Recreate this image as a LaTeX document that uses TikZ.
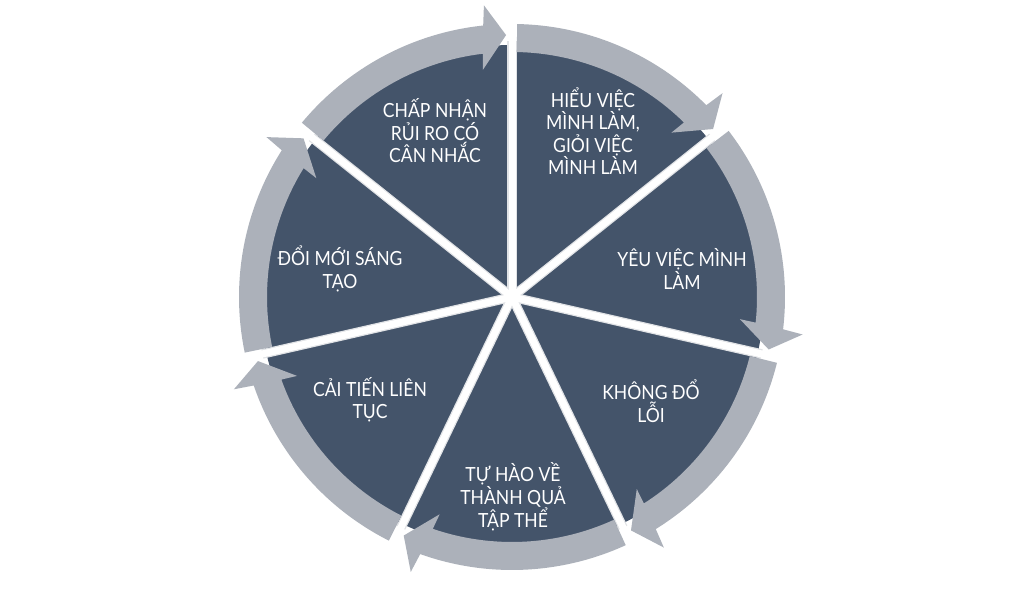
\documentclass[tikz,border=0pt]{standalone}
\usepackage{fontspec}
\setmainfont{Lato}[FakeStretch=0.9]
\definecolor{piecol}{RGB}{68,84,106}
\definecolor{bandcol}{RGB}{172,177,186}
\definecolor{edgecol}{RGB}{225,227,230}
\tikzset{
  sector/.style={fill=piecol},
  gapedge/.style={draw=edgecol, line width=9.5pt},
  gapline/.style={draw=white, line width=7pt},
  arrowband/.style={fill=bandcol},
  lbl/.style={text=white, align=center, inner sep=0pt, font=\fontsize{19.5}{22.5}\selectfont}
}
\begin{document}
\begin{tikzpicture}[x=1pt,y=1pt]
\useasboundingbox (0,0) rectangle (1024,601);
\fill[white] (0,0) rectangle (1024,601);
\coordinate (C) at (512,304);
\begin{scope}[shift={(C)}]
  % pie sectors
  \foreach \k in {0,...,6} {
    \pgfmathsetmacro\a{90-\k*360/7}
    \pgfmathsetmacro\b{\a-360/7}
    \fill[sector] (0,0) -- (\a:252) arc[start angle=\a, end angle=\b, radius=252] -- cycle;
  }
  % white gaps
  \foreach \k in {0,...,6} {
    \pgfmathsetmacro\a{90-\k*360/7}
    \draw[gapedge] (0,0) -- (\a:256);
  }
  \foreach \k in {0,...,6} {
    \pgfmathsetmacro\a{90-\k*360/7}
    \draw[gapline] (0,0) -- (\a:258);
  }
  % arrows
  \foreach \k in {0,...,6} {
    \pgfmathsetmacro\s{90-\k*360/7-1.1}
    \pgfmathsetmacro\b{90-(\k+1)*360/7}
    \pgfmathsetmacro\eo{\b+6.06}
    \pgfmathsetmacro\co{\b+5.5}
    \pgfmathsetmacro\tp{\b+1.3}
    \pgfmathsetmacro\ci{\b+7.3}
    \pgfmathsetmacro\ei{\b+6.85}
    \fill[arrowband] (\s:273) arc[start angle=\s, end angle=\eo, radius=273]
      -- (\co:293) -- (\tp:262) -- (\ci:229) -- (\ei:245)
      arc[start angle=\ei, end angle=\s, radius=245] -- cycle;
  }
\end{scope}
\node[lbl] (chap)  at (435,470) {CHẤP NHẬN\\RỦI RO CÓ\\CÂN NHẮC};
\node[lbl] (hieu)  at (593,470) {HIỂU VIỆC\\MÌNH LÀM,\\GIỎI VIỆC\\MÌNH LÀM};
\node[lbl] (yeu)   at (682,332) {YÊU VIỆC MÌNH\\LÀM};
\node[lbl] (khong) at (651,200) {KHÔNG ĐỔ\\LỖI};
\node[lbl] (tuhao) at (513,104) {TỰ HÀO VỀ\\THÀNH QUẢ\\TẬP THỂ};
\node[lbl] (cai)   at (370,201) {CẢI TIẾN LIÊN\\TỤC};
\node[lbl] (doi)   at (340,332) {ĐỔI MỚI SÁNG\\TẠO};
\end{tikzpicture}
\end{document}
